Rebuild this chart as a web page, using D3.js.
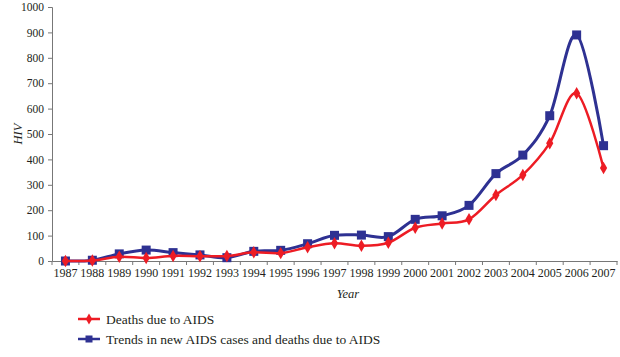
<!DOCTYPE html>
<html><head><meta charset="utf-8">
<script src="https://cdn.jsdelivr.net/npm/d3@7"></script>
<style>body{margin:0;background:#fff}svg{display:block}svg text{font-family:'Liberation Serif','Times New Roman',Times,serif !important}</style>
</head><body><svg id="c" width="620" height="357"></svg>
<script>
const years = ["1987","1988","1989","1990","1991","1992","1993","1994","1995","1996","1997","1998","1999","2000","2001","2002","2003","2004","2005","2006","2007"];
const deaths = [0,2,17,12,20,19,20,34,31,54,70,60,72,131,148,164,260,339,464,660,366];
const trends = [0,3,28,43,33,24,13,38,42,68,101,102,96,164,178,219,344,417,572,890,454];
const yTicks = [0,100,200,300,400,500,600,700,800,900,1000];
const seriesNames = ["Deaths due to AIDS","Trends in new AIDS cases and deaths due to AIDS"];

const svg = d3.select("#c");
const x = d3.scaleBand().domain(years).range([52,617]);
const y = d3.scaleLinear().domain([0,1000]).range([261,7]);
const axisColor = "#777";
const txt = "#231f20";

const gx = svg.append("g").attr("transform","translate(0,261)")
  .call(d3.axisBottom(x).tickSize(0).tickPadding(7));
gx.attr("font-family",null);
gx.select(".domain").attr("stroke",axisColor);
gx.selectAll("text").attr("font-size",12).attr("fill",txt);
svg.append("g").selectAll("line").data(years.concat(["end"])).join("line")
  .attr("x1",(d,i)=>52+i*x.step()).attr("x2",(d,i)=>52+i*x.step())
  .attr("y1",261).attr("y2",265).attr("stroke",axisColor);

const gy = svg.append("g").attr("transform","translate(52,0)")
  .call(d3.axisLeft(y).tickValues(yTicks).tickFormat(d3.format("d")).tickSize(4).tickPadding(4));
gy.attr("font-family",null);
gy.select(".domain").attr("stroke",axisColor);
gy.selectAll(".tick line").attr("stroke",axisColor);
gy.selectAll("text").attr("font-size",11.5).attr("fill",txt);

svg.append("text").attr("transform","translate(22,134) rotate(-90)").attr("text-anchor","middle")
  .attr("font-style","italic").attr("font-size",12.5).attr("fill",txt).text("HIV");
svg.append("text").attr("x",348).attr("y",298).attr("text-anchor","middle")
  .attr("font-style","italic").attr("font-size",12.5).attr("fill",txt).text("Year");

const cx = d => x(d) + x.bandwidth()/2;
const line = vals => d3.line().x((d,i)=>cx(years[i])).y(d=>y(d)).curve(d3.curveCatmullRom.alpha(0))(vals);

const blue = "#2e3192", red = "#ed1c24";
svg.append("path").attr("d",line(trends)).attr("fill","none").attr("stroke",blue).attr("stroke-width",3);
svg.append("g").selectAll("rect").data(trends).join("rect")
  .attr("x",(d,i)=>cx(years[i])-4.5).attr("y",d=>y(d)-4.5).attr("width",9).attr("height",9).attr("fill",blue);
svg.append("path").attr("d",line(deaths)).attr("fill","none").attr("stroke",red).attr("stroke-width",2.5);
const diamond = d3.symbol().type(d3.symbolDiamond).size(45);
svg.append("g").selectAll("path").data(deaths).join("path")
  .attr("transform",(d,i)=>`translate(${cx(years[i])},${y(d)})`).attr("d",diamond()).attr("fill",red);

const leg = svg.append("g");
[[red,319,"d"],[blue,339,"s"]].forEach(([c,ly,t],i)=>{
  leg.append("line").attr("x1",78).attr("x2",100).attr("y1",ly).attr("y2",ly).attr("stroke",c).attr("stroke-width",2.5);
  if(t==="d") leg.append("path").attr("transform",`translate(89,${ly})`).attr("d",d3.symbol().type(d3.symbolDiamond).size(35)()).attr("fill",c);
  else leg.append("rect").attr("x",85.5).attr("y",ly-3.5).attr("width",7).attr("height",7).attr("fill",c);
  leg.append("text").attr("x",106).attr("y",ly+4.5).attr("font-size",13.5).attr("fill",txt).text(seriesNames[i]);
});
</script></body></html>
